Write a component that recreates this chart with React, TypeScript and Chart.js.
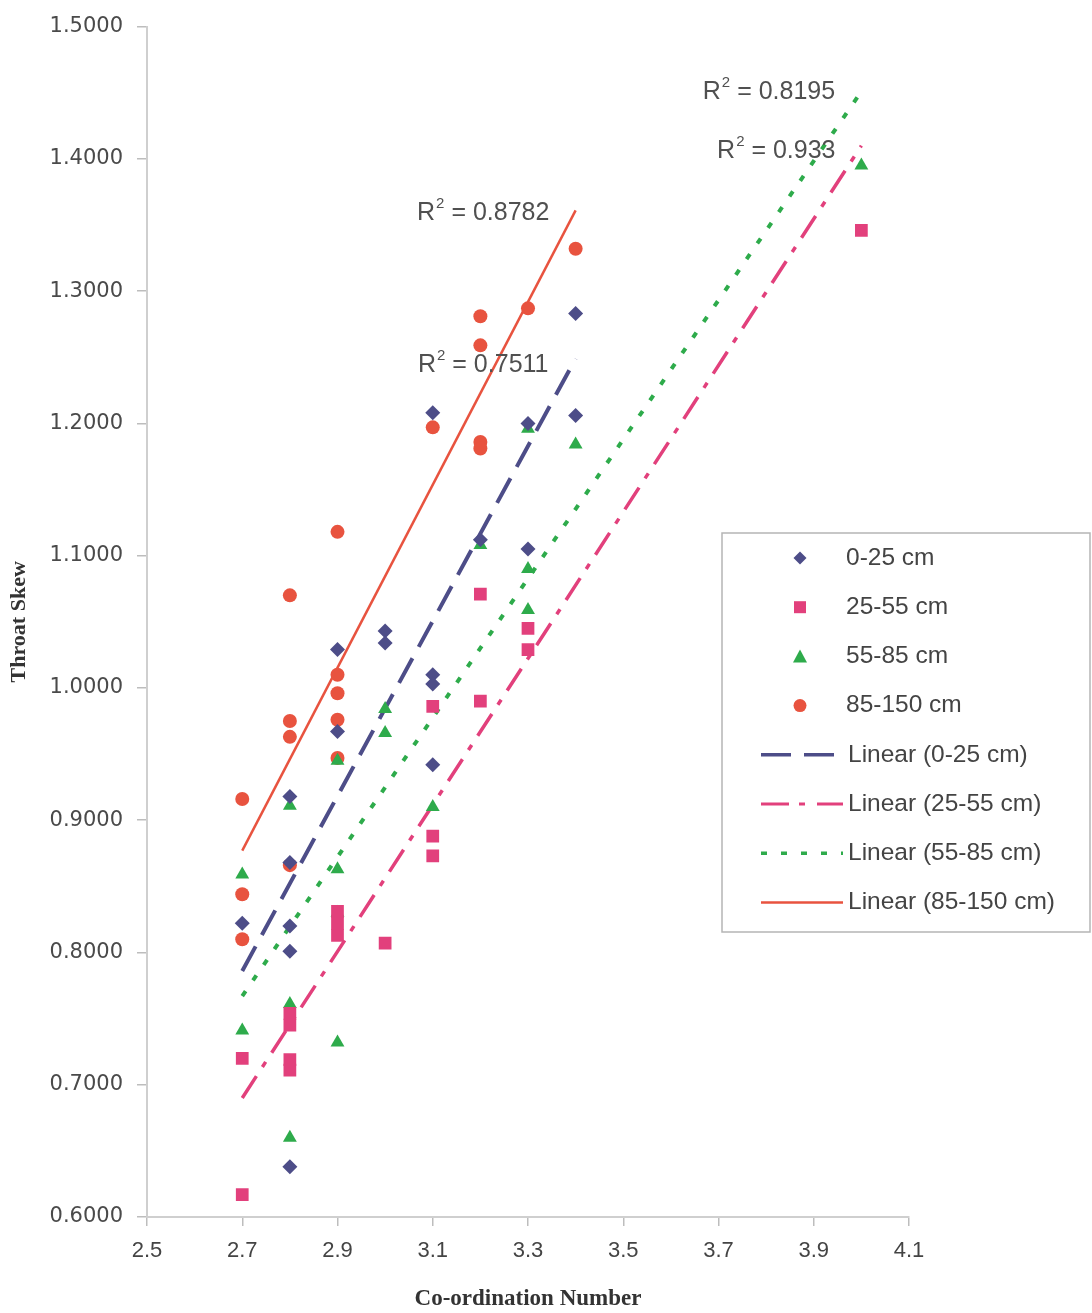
import React, { useEffect, useRef } from 'react';
import { Chart, registerables } from 'chart.js';

Chart.register(...registerables);

// ---- Data ----
const xA = [2.7, 2.8, 2.8, 2.8, 2.8, 2.8, 2.9, 2.9, 3.0, 3.0, 3.1, 3.1, 3.1, 3.1, 3.2, 3.3, 3.3, 3.4, 3.4];
const yA = [0.822, 0.918, 0.868, 0.820, 0.801, 0.638, 1.029, 0.967, 1.043, 1.034, 1.208, 1.010, 1.003, 0.942, 1.112, 1.200, 1.105, 1.283, 1.206];

const xB = [2.7, 2.7, 2.8, 2.8, 2.8, 2.8, 2.9, 2.9, 2.9, 3.0, 3.1, 3.1, 3.1, 3.2, 3.2, 3.3, 3.3, 4.0];
const yB = [0.720, 0.617, 0.754, 0.745, 0.719, 0.711, 0.831, 0.822, 0.813, 0.807, 0.986, 0.888, 0.873, 1.071, 0.990, 1.045, 1.029, 1.346];

const xC = [2.7, 2.7, 2.8, 2.8, 2.8, 2.9, 2.9, 2.9, 2.9, 3.0, 3.0, 3.1, 3.2, 3.3, 3.3, 3.3, 3.4, 4.0];
const yC = [0.859, 0.741, 0.911, 0.761, 0.660, 0.945, 0.863, 0.830, 0.732, 0.984, 0.966, 0.910, 1.108, 1.196, 1.090, 1.059, 1.184, 1.395];

const xD = [2.7, 2.7, 2.7, 2.8, 2.8, 2.8, 2.8, 2.9, 2.9, 2.9, 2.9, 2.9, 3.1, 3.2, 3.2, 3.2, 3.2, 3.3, 3.4];
const yD = [0.916, 0.844, 0.810, 1.070, 0.975, 0.963, 0.866, 1.118, 1.010, 0.996, 0.976, 0.947, 1.197, 1.281, 1.259, 1.186, 1.181, 1.287, 1.332];

// Trendline end points (as drawn in the reference)
const trendAx = [2.7, 3.4];
const trendAy = [0.786, 1.249];
const trendBx = [2.7, 4.0];
const trendBy = [0.690, 1.410];
const trendCx = [2.7, 4.0];
const trendCy = [0.767, 1.451];
const trendDx = [2.7, 3.4];
const trendDy = [0.877, 1.361];

const seriesNames = ['0-25 cm', '25-55 cm', '55-85 cm', '85-150 cm'];
const trendNames = ['Linear (0-25 cm)', 'Linear (25-55 cm)', 'Linear (55-85 cm)', 'Linear (85-150 cm)'];

// R² annotations
const r2Values = ['0.8782', '0.7511', '0.8195', '0.933'];
const r2X = [3.067, 3.069, 3.667, 3.697];
const r2Y = [1.359, 1.244, 1.4507, 1.406];

const xMin = 2.5, xMax = 4.1, xStep = 0.2;
const yMin = 0.6, yMax = 1.5, yStep = 0.1;

// ---- Styles ----
const NAVY = '#4d4d88';
const PINK = '#e2407c';
const GREEN = '#2eab4b';
const RED = '#e8533f';
const SANS = '"Liberation Sans", Arial, sans-serif';
const SERIF = '"Liberation Serif", "Times New Roman", serif';

const zip = (xs: number[], ys: number[]) => xs.map((x, i) => ({ x, y: ys[i] }));

function drawMarker(ctx: CanvasRenderingContext2D, kind: number, x: number, y: number, color: string) {
  ctx.save();
  ctx.fillStyle = color;
  ctx.beginPath();
  if (kind === 0) {
    const r = 6.5;
    ctx.moveTo(x, y - r); ctx.lineTo(x + r, y); ctx.lineTo(x, y + r); ctx.lineTo(x - r, y); ctx.closePath();
  } else if (kind === 1) {
    ctx.rect(x - 6, y - 6, 12, 12);
  } else if (kind === 2) {
    ctx.moveTo(x, y - 7); ctx.lineTo(x + 7, y + 6); ctx.lineTo(x - 7, y + 6); ctx.closePath();
  } else {
    ctx.arc(x, y, 6.5, 0, Math.PI * 2);
  }
  ctx.fill();
  ctx.restore();
}

const overlayPlugin = {
  id: 'overlay',
  afterDraw(chart: any) {
    const ctx: CanvasRenderingContext2D = chart.ctx;
    const xs = chart.scales.x;
    const ys = chart.scales.y;

    // R² labels
    r2Values.forEach((v, i) => {
      const px = xs.getPixelForValue(r2X[i]);
      const py = ys.getPixelForValue(r2Y[i]);
      ctx.save();
      ctx.fillStyle = '#505050';
      ctx.textBaseline = 'middle';
      ctx.textAlign = 'left';
      ctx.font = `25px ${SANS}`;
      ctx.fillText('R', px, py);
      const w = ctx.measureText('R').width;
      ctx.font = `15px ${SANS}`;
      ctx.fillText('2', px + w + 1, py - 9);
      const w2 = ctx.measureText('2').width;
      ctx.font = `25px ${SANS}`;
      ctx.fillText(' = ' + v, px + w + w2 + 1, py);
      ctx.restore();
    });

    // Legend box
    const bx = 722, by = 533, bw = 368, bh = 399;
    ctx.save();
    ctx.fillStyle = '#ffffff';
    ctx.fillRect(bx, by, bw, bh);
    ctx.strokeStyle = '#b5b5b5';
    ctx.lineWidth = 1.5;
    ctx.strokeRect(bx, by, bw, bh);
    ctx.restore();

    const rowY0 = 558, rowStep = 49.2;
    const colors = [NAVY, PINK, GREEN, RED];
    seriesNames.forEach((name, i) => {
      const y = rowY0 + i * rowStep;
      drawMarker(ctx, i, 800, y, colors[i]);
      ctx.save();
      ctx.fillStyle = '#444';
      ctx.font = `24.5px ${SANS}`;
      ctx.textBaseline = 'middle';
      ctx.fillText(name, 846, y);
      ctx.restore();
    });
    const dashes = [[30, 13], [28, 10, 6, 12], [6, 14], []];
    const widths = [3.5, 3, 3.5, 2.5];
    trendNames.forEach((name, i) => {
      const y = rowY0 + (i + 4) * rowStep;
      ctx.save();
      ctx.strokeStyle = colors[i];
      ctx.lineWidth = widths[i];
      ctx.setLineDash(dashes[i]);
      ctx.beginPath();
      ctx.moveTo(761, y);
      ctx.lineTo(843, y);
      ctx.stroke();
      ctx.restore();
      ctx.save();
      ctx.fillStyle = '#444';
      ctx.font = `24.5px ${SANS}`;
      ctx.textBaseline = 'middle';
      ctx.fillText(name, 848, y);
      ctx.restore();
    });
  },
};

export default function App() {
  const ref = useRef<HTMLCanvasElement>(null);

  useEffect(() => {
    if (!ref.current) return;
    const pt = (color: string, style: string, radius: number, label: string, data: any[]) => ({
      type: 'scatter' as const,
      label,
      data,
      pointStyle: style,
      pointRadius: radius,
      pointBackgroundColor: color,
      pointBorderColor: color,
      pointBorderWidth: 0,
      showLine: false,
      order: 1,
    });
    const tl = (color: string, dash: number[], width: number, label: string, data: any[]) => ({
      type: 'scatter' as const,
      label,
      data,
      showLine: true,
      borderColor: color,
      borderWidth: width,
      borderDash: dash,
      pointRadius: 0,
      fill: false,
      order: 2,
    });

    const chart = new Chart(ref.current, {
      type: 'scatter',
      data: {
        datasets: [
          tl(NAVY, [28, 13], 4, trendNames[0], zip(trendAx, trendAy)),
          tl(PINK, [26, 11, 6, 11], 3.5, trendNames[1], zip(trendBx, trendBy)),
          tl(GREEN, [6, 13], 4, trendNames[2], zip(trendCx, trendCy)),
          tl(RED, [], 2.5, trendNames[3], zip(trendDx, trendDy)),
          pt(NAVY, 'rectRot', 7.5, seriesNames[0], zip(xA, yA)),
          pt(PINK, 'rect', 9, seriesNames[1], zip(xB, yB)),
          pt(GREEN, 'triangle', 8, seriesNames[2], zip(xC, yC)),
          pt(RED, 'circle', 7, seriesNames[3], zip(xD, yD)),
        ] as any,
      },
      options: {
        responsive: false,
        animation: false,
        events: [],
        layout: { padding: { top: 24, right: 183, left: 0, bottom: 0 } },
        plugins: {
          legend: { display: false },
          tooltip: { enabled: false },
        },
        scales: {
          x: {
            type: 'linear',
            min: xMin,
            max: xMax,
            afterFit: (s: any) => { s.height = 96; },
            ticks: {
              stepSize: xStep,
              callback: (v: any) => Number(v).toFixed(1),
              font: { family: SANS, size: 22 },
              color: '#444',
              padding: 12,
              maxRotation: 0,
            },
            grid: { drawOnChartArea: false, drawTicks: true, tickLength: 9, color: '#bdbdbd', lineWidth: 1.5 },
            border: { color: '#cfcfcf', width: 2 },
            title: {
              display: true,
              text: 'Co-ordination Number',
              font: { family: SERIF, size: 23, weight: 'bold' },
              color: '#333',
              padding: { top: 0, bottom: 0 },
            },
          },
          y: {
            type: 'linear',
            min: yMin,
            max: yMax,
            afterFit: (s: any) => { s.width = 147; },
            ticks: {
              stepSize: yStep,
              callback: (v: any) => Number(v).toFixed(4),
              font: { family: '"DejaVu Sans", sans-serif', size: 21 },
              color: '#4a4a4a',
              padding: 14,
            },
            grid: { drawOnChartArea: false, drawTicks: true, tickLength: 10, color: '#bdbdbd', lineWidth: 1.5 },
            border: { color: '#cfcfcf', width: 2 },
            title: {
              display: true,
              text: 'Throat Skew',
              font: { family: SERIF, size: 22, weight: 'bold' },
              color: '#333',
              padding: { top: 6, bottom: 0 },
            },
          },
        },
      },
      plugins: [overlayPlugin],
    } as any);
    return () => chart.destroy();
  }, []);

  return (
    <div style={{ position: 'absolute', left: 0, top: 0, width: 1092, height: 1313, background: '#fff' }}>
      <canvas ref={ref} width={1092} height={1313} style={{ display: 'block' }} />
    </div>
  );
}
